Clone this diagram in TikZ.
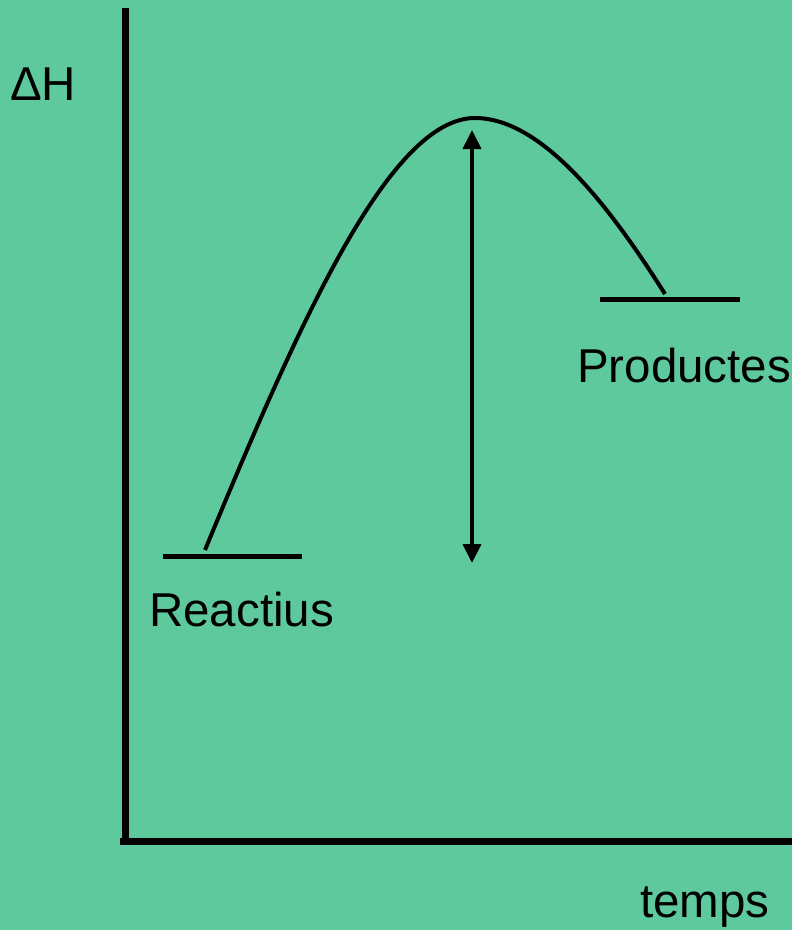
\documentclass[tikz,border=0pt]{standalone}
\usepackage{fontspec}
\setmainfont{Liberation Sans}
\usepackage{tikz}
\usetikzlibrary{arrows.meta,positioning}
\definecolor{vertFond}{RGB}{95,201,158}

\begin{document}
\begin{tikzpicture}[
		x=1pt, y=-1pt,
		axe/.style={line width=7pt},
		niveau/.style={line width=5pt},
		courbe/.style={line width=4pt},
		fleche/.style={{Triangle[length=19pt,width=18pt]}-{Triangle[length=19pt,width=18pt]}, line width=4pt},
		lbl/.style={font=\fontsize{47.5}{52}\selectfont, inner sep=0pt, anchor=base west}
		]
		\fill[vertFond] (0,0) rectangle (792,930);
		\useasboundingbox (0,0) rectangle (792,930);
		
		% axes
		\coordinate (haut)    at (125,8);
		\coordinate (origine) at (125,841);
		\coordinate (droite)  at (792,841);
		\draw[axe] (haut) -- (origine);
		\draw[axe] ([xshift=-5pt]origine) -- (droite);
		
		% niveaux
		\coordinate (reacG) at (163,556);
		\coordinate (reacD) at (302,556);
		\coordinate (prodG) at (600,299);
		\coordinate (prodD) at (740,299);
		\draw[niveau] (reacG) -- (reacD);
		\draw[niveau] (prodG) -- (prodD);
		
		% courbe
		\coordinate (debut)  at (205,550);
		\coordinate (sommet) at (475,118);
		\coordinate (fin)    at (665,294);
		\draw[courbe] (debut) .. controls (300,320) and (390,118) .. (sommet)
		.. controls (545,118) and (615,215) .. (fin);
		
		% energie
		\coordinate (flHaut) at (472,130);
		\coordinate (flBas)  at (472,563);
		\draw[fleche] (flHaut) -- (flBas);
		
		\node[lbl] (dH)    at (10,100)  {ΔH};
		\node[lbl] (reac)  at (149,626) {Reactius};
		\node[lbl] (prod)  at (577,382) {Productes};
		\node[lbl] (temps) at (640,917) {temps};
\end{tikzpicture}
\end{document}
